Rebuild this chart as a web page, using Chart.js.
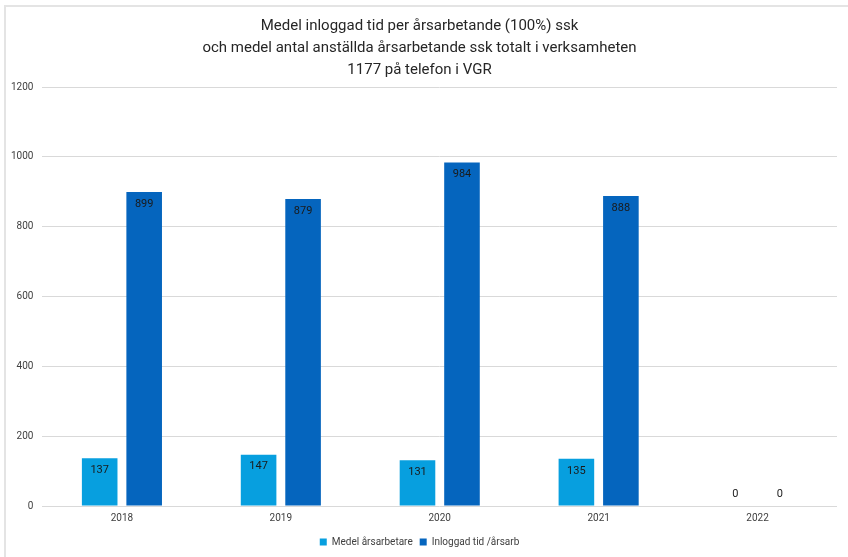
<!DOCTYPE html>
<html>
<head>
<meta charset="utf-8">
<script src="https://cdn.jsdelivr.net/npm/chart.js@4/dist/chart.umd.min.js"></script>
<style>
  html, body { margin: 0; padding: 0; background: #fff; }
  #wrap { position: relative; width: 848px; height: 557px; }
  #frame { position: absolute; left: 4px; top: 5px; right: 0; bottom: 0;
           border-top: 2px solid #e4e4e4; border-left: 2px solid #e4e4e4; pointer-events: none; }
  canvas { position: absolute; left: 0; top: 0; }
</style>
</head>
<body>
<div id="wrap">
  <canvas id="c" width="848" height="557"></canvas>
  <div id="frame"></div>
</div>
<script>
const categories = ['2018', '2019', '2020', '2021', '2022'];
const medelArsarbetare = [137, 147, 131, 135, 0];
const inloggadTid = [899, 879, 984, 888, 0];
const seriesNames = ['Medel årsarbetare', 'Inloggad tid /årsarb'];
const titleLines = [
  'Medel inloggad tid per årsarbetande (100%) ssk',
  'och medel antal anställda årsarbetande ssk totalt i verksamheten',
  '1177 på telefon i VGR'
];
const yTicks = [0, 200, 400, 600, 800, 1000, 1200];

const FONT = "Roboto, 'Open Sans', sans-serif";

const valueLabels = {
  id: 'valueLabels',
  afterDatasetsDraw(chart) {
    const ctx = chart.ctx;
    ctx.save();
    ctx.font = '11px ' + FONT;
    ctx.fillStyle = '#1a1a1a';
    ctx.textAlign = 'center';
    ctx.textBaseline = 'middle';
    chart.data.datasets.forEach((ds, di) => {
      const meta = chart.getDatasetMeta(di);
      meta.data.forEach((bar, i) => {
        const v = ds.data[i];
        const y = v > 0 ? bar.y + 12 : bar.y - 12;
        ctx.fillText(String(v), bar.x, y);
      });
    });
    ctx.restore();
  }
};

new Chart(document.getElementById('c'), {
  type: 'bar',
  data: {
    labels: categories,
    datasets: [
      { label: seriesNames[0], data: medelArsarbetare, backgroundColor: '#079fdf',
        categoryPercentage: 0.56, barPercentage: 0.8 },
      { label: seriesNames[1], data: inloggadTid, backgroundColor: '#0565be',
        categoryPercentage: 0.56, barPercentage: 0.8 }
    ]
  },
  options: {
    responsive: false,
    animation: false,
    layout: { padding: { left: 2, right: 11, top: 15, bottom: 0 } },
    plugins: {
      title: {
        display: true,
        text: titleLines,
        color: '#262626',
        font: { family: FONT, size: 15, weight: 'normal', lineHeight: '22px' },
        padding: { top: 0, bottom: 6 }
      },
      legend: {
        display: true,
        position: 'bottom',
        labels: {
          boxWidth: 7, boxHeight: 7, color: '#404040',
          font: { family: FONT, size: 10 },
          padding: 7
        }
      },
      tooltip: { enabled: false }
    },
    scales: {
      x: {
        grid: { display: false, drawTicks: false },
        border: { display: false },
        ticks: { color: '#404040', font: { family: FONT, size: 10 }, padding: 6 }
      },
      y: {
        min: 0, max: 1200,
        afterBuildTicks(axis) { axis.ticks = yTicks.map(v => ({ value: v })); },
        grid: { color: '#d9d9d9', drawTicks: false, lineWidth: 1 },
        border: { display: false },
        ticks: { color: '#404040', font: { family: FONT, size: 10 }, padding: 9,
                 callback: (v) => String(v) }
      }
    }
  },
  plugins: [valueLabels]
});
</script>
</body>
</html>
